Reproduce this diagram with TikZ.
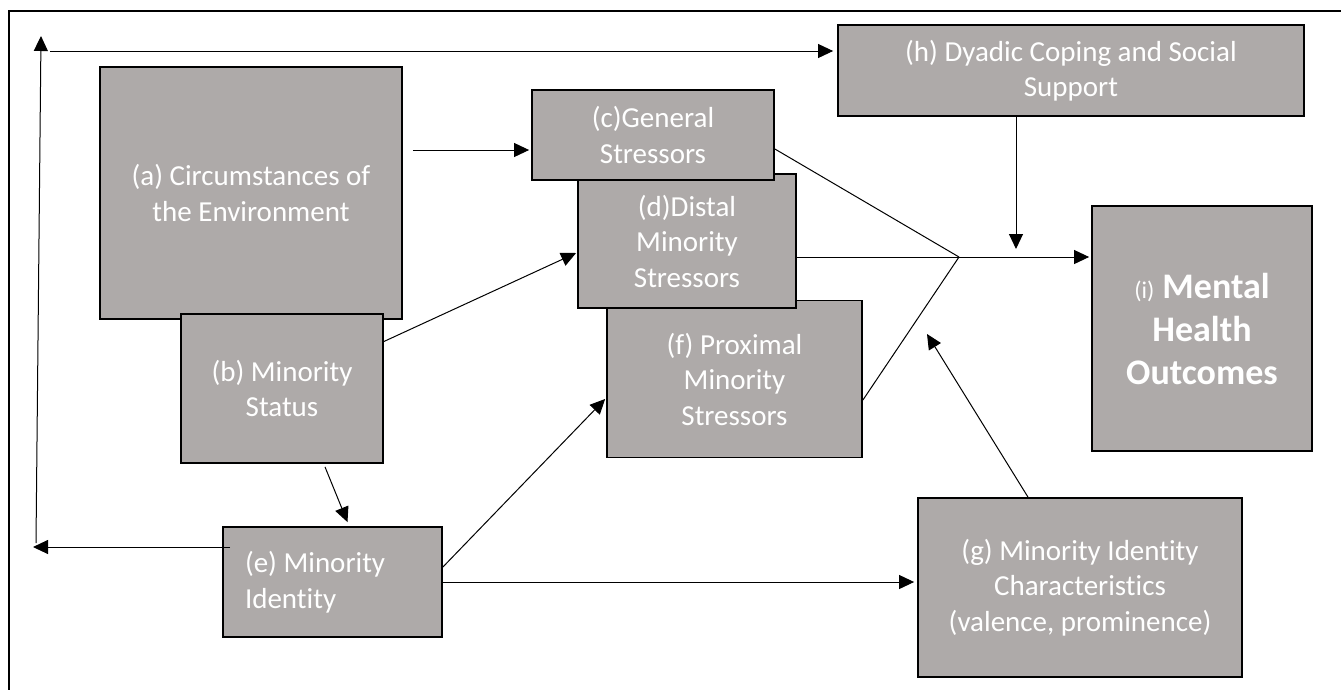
\documentclass[tikz,border=0pt]{standalone}
\usepackage{fontspec}
\setmainfont{Carlito}[Ligatures=NoCommon]
\usetikzlibrary{arrows.meta,calc}
\definecolor{boxgray}{RGB}{174,170,169}
\begin{document}
\begin{tikzpicture}[x=1pt,y=-1pt,
  box/.style={draw=black, line width=1.8pt, fill=boxgray, text=white,
    inner sep=0pt, align=center, font=\fontsize{29}{35.5}\selectfont},
  link/.style={line width=1pt},
  arr/.style={link, -{Triangle[length=15pt,width=14pt]}}]
\useasboundingbox (0,0) rectangle (1341,689);
% outer frame
\draw[line width=1.6pt] (9,11) rectangle (1360,710);

% stress process boxes (later boxes overlap earlier ones)
\node[box, minimum width=302pt, minimum height=252pt] (a) at (251,193)
  {(a) Circumstances of\\the Environment};
\node[box, minimum width=202pt, minimum height=149pt] (b) at (282,388.5)
  {(b) Minority\\Status};
\node[box, minimum width=255pt, minimum height=157pt] (f) at (734.5,379)
  {(f) Proximal\\Minority\\Stressors};
\node[box, minimum width=218pt, minimum height=134pt] (d) at (687,241)
  {(d)Distal\\Minority\\Stressors};
\node[box, minimum width=242pt, minimum height=90pt] (c) at (653,135)
  {(c)General\\Stressors};
\node[box, minimum height=110pt, text width=175pt, inner xsep=22pt, align=flush left] (e) at (332.5,582)
  {(e) Minority\\Identity};
\node[box, minimum width=466pt, minimum height=91pt] (h) at (1071,70.5)
  {(h) Dyadic Coping and Social\\Support};
\node[box, minimum width=220pt, minimum height=245pt, font=\fontsize{36}{43}\selectfont] (i) at (1202,328.5)
  {{\fontsize{24}{43}\selectfont (i)} \textbf{Mental}\\\textbf{Health}\\\textbf{Outcomes}};
\node[box, minimum width=324pt, minimum height=179pt] (g) at (1080,587.5)
  {(g) Minority Identity\\Characteristics\\(valence, prominence)};

% junction where the stressors meet
\coordinate (J) at (959,257);
\draw[link] ([yshift=-14pt]c.east) -- (J);
\draw[link] ([yshift=-16pt]d.east) -- (J);
\draw[link] ([yshift=-21pt]f.east) -- (J);
\draw[arr] (J) -- ([xshift=-2pt]J -| i.west);

% moderators
\draw[arr] ([xshift=-55pt]h.south) -- ([xshift=-55pt,yshift=8pt]h.south |- J);
\coordinate (gT) at (927,334);
\draw[arr] ([xshift=-52pt]g.north) -- (gT);

% paths between the boxes
\coordinate (cA) at ([xshift=-2pt,yshift=-15pt]c.west);
\draw[arr] ([xshift=10pt]a.east |- cA) -- (cA);
\draw[arr] ([yshift=47pt]b.east) -- ([xshift=-1pt,yshift=-12pt]d.west);
\draw[arr] ([xshift=43pt,yshift=-3pt]b.south) -- ([xshift=15pt,yshift=4pt]e.north);
\draw[arr] ([yshift=15pt]e.east) -- ([xshift=-1pt,yshift=-20pt]f.west);
\draw[arr] (e.east) -- ([xshift=-3pt]e.east -| g.west);

% feedback loop from identity to coping
\coordinate (L1) at (33,547);
\coordinate (L2) at (36,543);
\coordinate (L3) at (41,36);
\coordinate (L4) at (50,51);
\draw[arr] ([xshift=8pt,yshift=35pt]e.west) -- (L1);
\draw[arr] (L2) -- (L3);
\draw[arr] (L4) -- ([xshift=-4pt]L4 -| h.west);
\end{tikzpicture}
\end{document}
